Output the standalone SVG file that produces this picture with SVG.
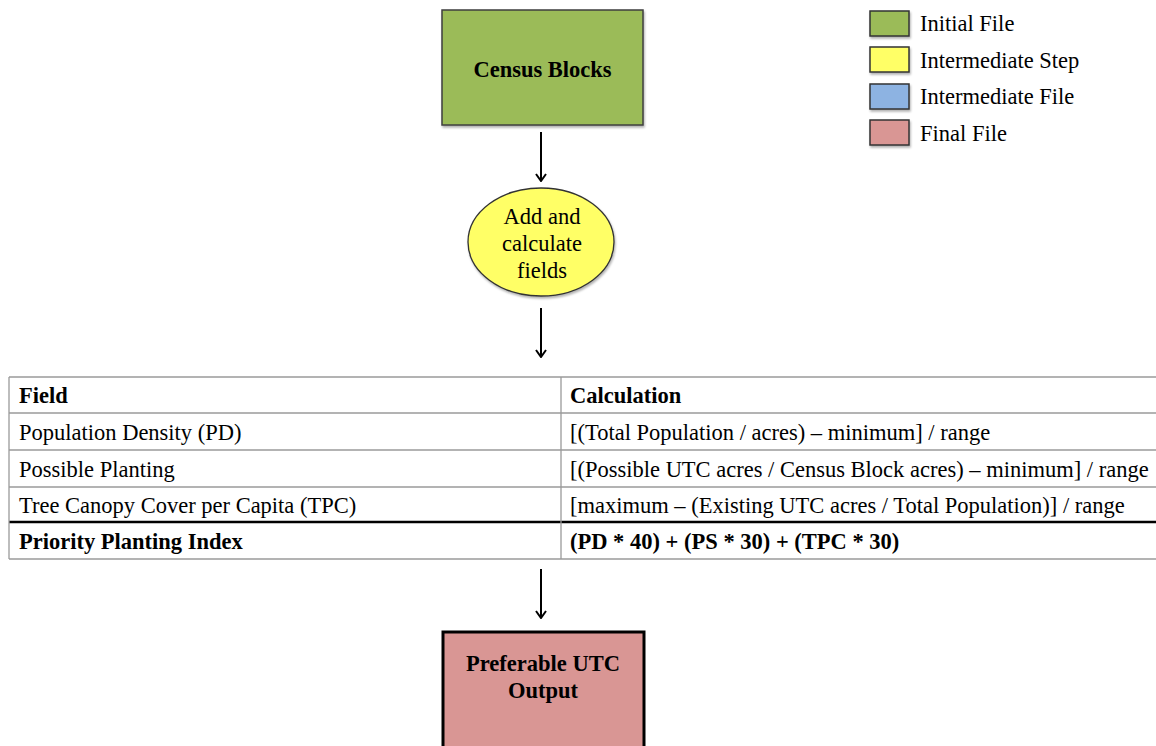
<svg xmlns="http://www.w3.org/2000/svg" width="1156" height="746" viewBox="0 0 1156 746">
<defs>
<style>
text{font-family:"Liberation Serif","Times New Roman",serif;fill:#000}
.b{font-weight:bold}
.t{font-size:22.5px}
.lg{font-size:22.5px}
.node{font-size:22.5px;text-anchor:middle}
.grid{stroke:#9a9a9a;stroke-width:1.3;fill:none}
.conn{stroke:#000;stroke-width:2;fill:none}
.sw{stroke:#333;stroke-width:1.5}
</style>
<marker id="ah" viewBox="0 0 12 12" refX="11" refY="6" markerWidth="12" markerHeight="12" markerUnits="userSpaceOnUse" orient="auto">
<path d="M4,1 L11,6 L4,11" fill="none" stroke="#000" stroke-width="2"/>
</marker>
<filter id="sh" x="-20%" y="-20%" width="140%" height="150%">
<feDropShadow dx="1" dy="2" stdDeviation="1" flood-color="#000" flood-opacity="0.3"/>
</filter>
</defs>
<rect width="1156" height="746" fill="#fff"/>

<g id="census-blocks">
<rect x="442" y="10" width="201" height="115" fill="#9BBB59" stroke="#3f3f3f" stroke-width="1.5" filter="url(#sh)"/>
<text class="node b" x="542.5" y="77">Census Blocks</text>
</g>

<g id="add-calculate">
<ellipse cx="541" cy="242" rx="73" ry="54" fill="#FFFF66" stroke="#333" stroke-width="1.3" filter="url(#sh)"/>
<text class="node" x="542" y="224">Add and</text>
<text class="node" x="542" y="251">calculate</text>
<text class="node" x="542" y="278">fields</text>
</g>

<g id="fields-table">
<line class="grid" x1="9" y1="377" x2="1156" y2="377"/>
<line class="grid" x1="9" y1="413" x2="1156" y2="413"/>
<line class="grid" x1="9" y1="450" x2="1156" y2="450"/>
<line class="grid" x1="9" y1="487" x2="1156" y2="487"/>
<line x1="9" y1="522" x2="1156" y2="522" stroke="#000" stroke-width="2.5"/>
<line class="grid" x1="9" y1="559" x2="1156" y2="559"/>
<line class="grid" x1="9" y1="377" x2="9" y2="559"/>
<line class="grid" x1="561" y1="377" x2="561" y2="559"/>
<text class="t b" x="19" y="403">Field</text>
<text class="t b" x="570" y="403">Calculation</text>
<text class="t" x="19" y="440">Population Density (PD)</text>
<text class="t" x="570" y="440">[(Total Population / acres) – minimum] / range</text>
<text class="t" x="19" y="477">Possible Planting</text>
<text class="t" x="570" y="477">[(Possible UTC acres / Census Block acres) – minimum] / range</text>
<text class="t" x="19" y="513">Tree Canopy Cover per Capita (TPC)</text>
<text class="t" x="570" y="513">[maximum – (Existing UTC acres / Total Population)] / range</text>
<text class="t b" x="19" y="549">Priority Planting Index</text>
<text class="t b" x="570" y="549">(PD * 40) + (PS * 30) + (TPC * 30)</text>
</g>

<g id="preferable-utc-output">
<rect x="443" y="632" width="201" height="130" fill="#D99694" stroke="#000" stroke-width="3"/>
<text class="node b" x="543" y="671">Preferable UTC</text>
<text class="node b" x="543" y="698">Output</text>
</g>

<g id="legend">
<rect class="sw" x="870" y="11" width="39" height="25" fill="#9BBB59" filter="url(#sh)"/>
<text class="lg" x="920" y="31">Initial File</text>
<rect class="sw" x="870" y="47" width="39" height="25" fill="#FFFF66" filter="url(#sh)"/>
<text class="lg" x="920" y="68">Intermediate Step</text>
<rect class="sw" x="870" y="84" width="39" height="25" fill="#8DB3E2" filter="url(#sh)"/>
<text class="lg" x="920" y="104">Intermediate File</text>
<rect class="sw" x="870" y="120" width="39" height="25" fill="#D99694" filter="url(#sh)"/>
<text class="lg" x="920" y="141">Final File</text>
</g>

<g id="connectors">
<line class="conn" x1="541" y1="132" x2="541" y2="181" marker-end="url(#ah)"/>
<line class="conn" x1="541" y1="308" x2="541" y2="357" marker-end="url(#ah)"/>
<line class="conn" x1="541" y1="569" x2="541" y2="618" marker-end="url(#ah)"/>
</g>
</svg>
